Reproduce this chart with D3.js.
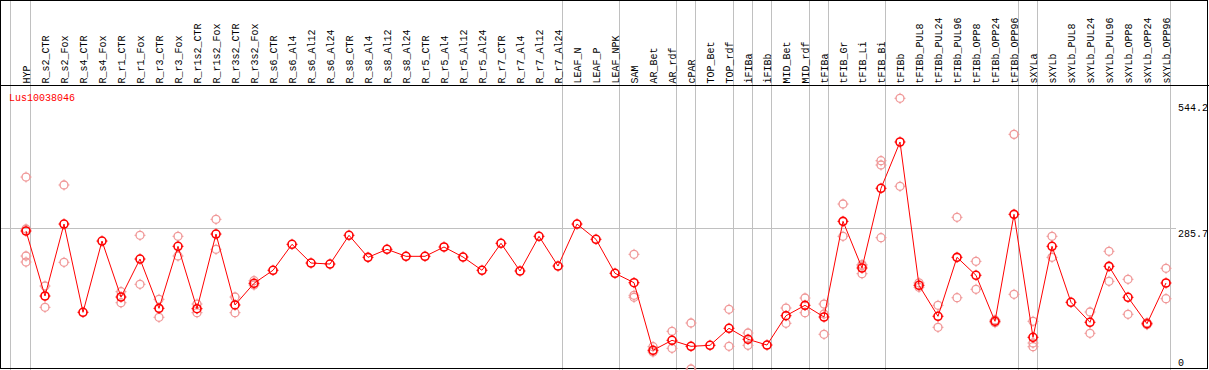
<!DOCTYPE html>
<html>
<head>
<meta charset="utf-8">
<script src="https://cdn.jsdelivr.net/npm/d3@7"></script>
<style>
  body { margin: 0; background: #fff; }
  text { font-family: "Liberation Mono", "DejaVu Sans Mono", monospace; font-size: 10px; }
</style>
</head>
<body>
<div id="chart"></div>
<script>
const geneName = "Lus10038046";

const categories = [
    "HYP", "R_s2_CTR", "R_s2_Fox", "R_s4_CTR", "R_s4_Fox", "R_r1_CTR", "R_r1_Fox", "R_r3_CTR", "R_r3_Fox",
    "R_r1s2_CTR", "R_r1s2_Fox", "R_r3s2_CTR", "R_r3s2_Fox", "R_s6_CTR", "R_s6_Al4", "R_s6_Al12", "R_s6_Al24",
    "R_s8_CTR", "R_s8_Al4", "R_s8_Al12", "R_s8_Al24", "R_r5_CTR", "R_r5_Al4", "R_r5_Al12", "R_r5_Al24",
    "R_r7_CTR", "R_r7_Al4", "R_r7_Al12", "R_r7_Al24", "LEAF_N", "LEAF_P", "LEAF_NPK", "SAM", "AR_Bet", "AR_rdf",
    "cPAR", "TOP_Bet", "TOP_rdf", "iFIBa", "iFIBb", "MID_Bet", "MID_rdf", "tFIBa", "tFIB_Gr", "tFIB_Li", "tFIB_Bi",
    "tFIBb", "tFIBb_PUL8", "tFIBb_PUL24", "tFIBb_PUL96", "tFIBb_OPP8", "tFIBb_OPP24", "tFIBb_OPP96",
    "sXYLa", "sXYLb", "sXYLb_PUL8", "sXYLb_PUL24", "sXYLb_PUL96", "sXYLb_OPP8", "sXYLb_OPP24", "sXYLb_OPP96"
];

// mean expression per sample
const means = [
    279.1, 149.2, 293.0, 116.7, 259.0, 147.2, 223.1, 124.6, 248.5, 123.9, 273.0, 131.3, 174.6, 200.6, 252.5,
    215.1, 213.1, 270.5, 226.5, 242.5, 228.5, 228.5, 247.1, 227.1, 200.6, 254.5, 199.2, 268.5, 209.1,
    293.0, 262.5, 194.6, 175.8, 40.8, 60.7, 48.7, 50.7, 84.7, 62.7, 51.3, 109.9, 130.6, 107.3, 298.4, 205.2, 364.4, 456.9,
    170.6, 108.7, 226.5, 190.6, 98.7, 312.4, 66.7, 248.5, 136.6, 96.7, 208.5, 146.6, 93.9, 175.2
];

// individual replicates (empty = single value)
const replicates = [
    [386.9, 283.1, 229.1, 217.1], [169.2, 126.6], [371.0, 216.5], [], [], [157.8, 135.8], [270.5, 172.6],
    [142.6, 106.7], [268.5, 229.1], [133.2, 115.9], [302.4, 242.5], [147.2, 115.9], [179.8, 171.2], [], [],
    [], [], [], [], [], [], [], [], [], [], [], [], [], [],
    [], [], [], [232.5, 150.6, 146.6], [47.9, 37.4], [78.7, 44.7], [95.3, 3.4], [], [122.7, 48.7], [75.3, 50.7], [],
    [125.2, 94.7], [145.2, 115.9], [133.2, 113.3, 72.7], [333.0, 268.5], [212.0, 209.5, 193.8], [419.5, 410.9, 265.7],
    [544.2, 368.4],
    [175.4, 166.6], [130.6, 86.7], [306.4, 145.8], [218.5, 162.6], [101.3, 95.9], [472.2, 152.6],
    [98.7, 55.3, 47.9], [268.5, 226.5], [], [117.3, 74.7], [238.5, 178.6], [182.6, 112.7], [95.9, 91.9], [204.6, 143.8]
];

const separatorsAfter = [
    "HYP", "R_r7_Al24", "LEAF_NPK", "AR_rdf", "cPAR", "TOP_rdf", "iFIBa", "iFIBb", "MID_rdf", "tFIBa",
    "tFIB_Bi", "tFIBb_OPP96", "sXYLa", "sXYLb_OPP96"
];

const axisLabels = [544.2, 285.7, 0];
const gridValues = [285.7];

const width = 1209;
const height = 370;
const headerBottom = 85;

const svg = d3.select("#chart")
    .append("svg")
    .attr("width", width)
    .attr("height", height);

svg.append("rect").attr("width", width).attr("height", height).attr("fill", "#fff");

const x = d3.scalePoint().domain(categories).range([26, 1166]);
const y = d3.scaleLinear().domain([0, 544.2]).range([370.7, 98.3]);

// vertical group separators
const sepX = [x(categories[0]) - 15.5].concat(separatorsAfter.map(d => x(d) + 4.5));
svg.selectAll(".sep")
    .data(sepX)
    .join("line")
    .attr("x1", d => d).attr("x2", d => d)
    .attr("y1", 0).attr("y2", height)
    .attr("stroke", "#c0c0c0")
    .attr("shape-rendering", "crispEdges");

// horizontal reference line
svg.selectAll(".grid")
    .data(gridValues)
    .join("line")
    .attr("x1", 0).attr("x2", 1176)
    .attr("y1", d => Math.round(y(d)) + 0.5).attr("y2", d => Math.round(y(d)) + 0.5)
    .attr("stroke", "#c0c0c0")
    .attr("shape-rendering", "crispEdges");

// frame and header rule
svg.append("rect")
    .attr("x", 0.5).attr("y", 0.5)
    .attr("width", 1207).attr("height", 368)
    .attr("fill", "none")
    .attr("stroke", "#000")
    .attr("shape-rendering", "crispEdges");

svg.append("line")
    .attr("x1", 0).attr("x2", width)
    .attr("y1", headerBottom + 0.5).attr("y2", headerBottom + 0.5)
    .attr("stroke", "#000")
    .attr("shape-rendering", "crispEdges");

// sample labels
svg.selectAll(".lab")
    .data(categories)
    .join("text")
    .attr("transform", d => `translate(${x(d) + 4}, 83.5) rotate(-90)`)
    .attr("text-anchor", "start")
    .attr("fill", "#000")
    .text(d => d);

svg.append("text")
    .attr("x", 9)
    .attr("y", 101)
    .attr("fill", "#ff0000")
    .text(geneName);

// right value labels
svg.selectAll(".ylab")
    .data(axisLabels)
    .join("text")
    .attr("x", 1178)
    .attr("y", d => Math.min(Math.max(y(d) + 9, 110.7), 365.5))
    .attr("fill", "#000")
    .text(d => d);

const tickPath = "M0,-5.5V-3.5M0,3.5V5.5M-5.5,0H-3.5M3.5,0H5.5";

function marker(g, color, sw) {
    g.append("circle").attr("r", 4).attr("fill", "none").attr("stroke", color).attr("stroke-width", sw);
    g.append("path").attr("d", tickPath).attr("stroke", color).attr("stroke-width", 1);
}

// replicate points
const reps = [];
categories.forEach((c, i) => replicates[i].forEach(v => reps.push({ c, v })));

svg.selectAll(".rep")
    .data(reps)
    .join("g")
    .attr("transform", d => `translate(${x(d.c)}, ${y(d.v)})`)
    .each(function () { marker(d3.select(this), "#f09898", 1.3); });

// mean line
svg.append("path")
    .datum(means)
    .attr("fill", "none")
    .attr("stroke", "#ff0000")
    .attr("stroke-width", 1)
    .attr("d", d3.line()
        .x((d, i) => x(categories[i]))
        .y(d => y(d)));

svg.selectAll(".mean")
    .data(means)
    .join("g")
    .attr("transform", (d, i) => `translate(${x(categories[i])}, ${y(d)})`)
    .each(function () { marker(d3.select(this), "#ff0000", 1.6); });
</script>
</body>
</html>
